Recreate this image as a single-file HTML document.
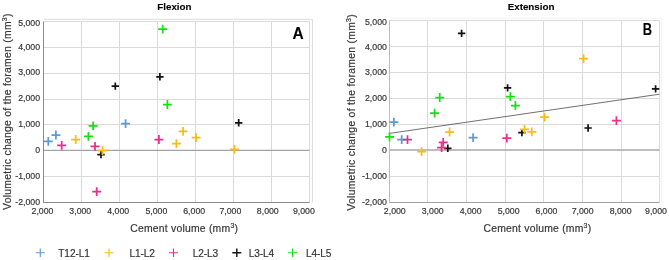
<!DOCTYPE html><html><head><meta charset="utf-8"><style>
html,body{margin:0;padding:0;background:#fff;width:669px;height:260px;overflow:hidden}
svg{display:block;font-family:"Liberation Sans", sans-serif;will-change:transform}
text{fill:#363636;stroke:#363636;stroke-width:0.18px}
.tk{font-size:8.75px}
.ti{font-size:9.8px;font-weight:bold;fill:#000;stroke:#000;stroke-width:0.1px}
.ax{font-size:10.4px;letter-spacing:0.22px}
.ay{font-size:10.4px;letter-spacing:0.27px}
.lg{font-size:10.1px;letter-spacing:-0.1px}
.pl{font-size:15.5px;font-weight:bold;fill:#000;stroke:#000;stroke-width:0.1px}
</style></head><body>
<svg width="669" height="260" viewBox="0 0 669 260">
<rect width="669" height="260" fill="#fff"/>
<path d="M43.50 19.30H312.40V202.50" fill="none" stroke="#dcdcdc" stroke-width="1"/>
<line x1="43.50" x2="309.50" y1="21.50" y2="21.50" stroke="#dadada" stroke-width="1"/>
<line x1="43.50" x2="309.50" y1="47.50" y2="47.50" stroke="#dadada" stroke-width="1"/>
<line x1="43.50" x2="309.50" y1="73.50" y2="73.50" stroke="#dadada" stroke-width="1"/>
<line x1="43.50" x2="309.50" y1="99.50" y2="99.50" stroke="#dadada" stroke-width="1"/>
<line x1="43.50" x2="309.50" y1="124.50" y2="124.50" stroke="#dadada" stroke-width="1"/>
<line x1="43.50" x2="309.50" y1="176.50" y2="176.50" stroke="#dadada" stroke-width="1"/>
<line x1="81.50" x2="81.50" y1="21.50" y2="202.50" stroke="#dadada" stroke-width="1"/>
<line x1="119.50" x2="119.50" y1="21.50" y2="202.50" stroke="#dadada" stroke-width="1"/>
<line x1="157.50" x2="157.50" y1="21.50" y2="202.50" stroke="#dadada" stroke-width="1"/>
<line x1="195.50" x2="195.50" y1="21.50" y2="202.50" stroke="#dadada" stroke-width="1"/>
<line x1="233.50" x2="233.50" y1="21.50" y2="202.50" stroke="#dadada" stroke-width="1"/>
<line x1="271.50" x2="271.50" y1="21.50" y2="202.50" stroke="#dadada" stroke-width="1"/>
<line x1="309.50" x2="309.50" y1="21.50" y2="202.50" stroke="#dadada" stroke-width="1"/>
<line x1="43.50" x2="309.50" y1="150.40" y2="150.40" stroke="#a4a4a4" stroke-width="1.1"/>
<line x1="43.50" x2="309.50" y1="202.50" y2="202.50" stroke="#8a8a8a" stroke-width="1"/>
<line x1="43.50" x2="43.50" y1="21.50" y2="203.00" stroke="#8a8a8a" stroke-width="1"/>
<text x="40.10" y="25.65" text-anchor="end" class="tk">5,000</text>
<text x="40.10" y="50.25" text-anchor="end" class="tk">4,000</text>
<text x="40.10" y="75.20" text-anchor="end" class="tk">3,000</text>
<text x="40.10" y="101.25" text-anchor="end" class="tk">2,000</text>
<text x="40.10" y="127.05" text-anchor="end" class="tk">1,000</text>
<text x="40.10" y="153.15" text-anchor="end" class="tk">0</text>
<text x="40.10" y="178.90" text-anchor="end" class="tk">-1,000</text>
<text x="40.10" y="205.35" text-anchor="end" class="tk">-2,000</text>
<text x="42.50" y="214.20" text-anchor="middle" class="tk">2,000</text>
<text x="80.30" y="214.20" text-anchor="middle" class="tk">3,000</text>
<text x="118.20" y="214.20" text-anchor="middle" class="tk">4,000</text>
<text x="156.40" y="214.20" text-anchor="middle" class="tk">5,000</text>
<text x="194.20" y="214.20" text-anchor="middle" class="tk">6,000</text>
<text x="230.40" y="214.20" text-anchor="middle" class="tk">7,000</text>
<text x="267.80" y="214.20" text-anchor="middle" class="tk">8,000</text>
<text x="303.90" y="214.20" text-anchor="middle" class="tk">9,000</text>
<path d="M389.50 18.20H661.60V202.50" fill="none" stroke="#f3f3f3" stroke-width="1"/>
<line x1="389.50" x2="659.50" y1="20.50" y2="20.50" stroke="#dadada" stroke-width="1"/>
<line x1="389.50" x2="659.50" y1="46.50" y2="46.50" stroke="#dadada" stroke-width="1"/>
<line x1="389.50" x2="659.50" y1="72.50" y2="72.50" stroke="#dadada" stroke-width="1"/>
<line x1="389.50" x2="659.50" y1="98.50" y2="98.50" stroke="#dadada" stroke-width="1"/>
<line x1="389.50" x2="659.50" y1="124.50" y2="124.50" stroke="#dadada" stroke-width="1"/>
<line x1="389.50" x2="659.50" y1="176.50" y2="176.50" stroke="#dadada" stroke-width="1"/>
<line x1="427.50" x2="427.50" y1="20.50" y2="202.50" stroke="#dadada" stroke-width="1"/>
<line x1="466.50" x2="466.50" y1="20.50" y2="202.50" stroke="#dadada" stroke-width="1"/>
<line x1="505.50" x2="505.50" y1="20.50" y2="202.50" stroke="#dadada" stroke-width="1"/>
<line x1="543.50" x2="543.50" y1="20.50" y2="202.50" stroke="#dadada" stroke-width="1"/>
<line x1="582.50" x2="582.50" y1="20.50" y2="202.50" stroke="#dadada" stroke-width="1"/>
<line x1="621.50" x2="621.50" y1="20.50" y2="202.50" stroke="#dadada" stroke-width="1"/>
<line x1="659.50" x2="659.50" y1="20.50" y2="202.50" stroke="#dadada" stroke-width="1"/>
<line x1="389.50" x2="659.50" y1="150.00" y2="150.00" stroke="#a8a8a8" stroke-width="1.7"/>
<line x1="389.50" x2="659.50" y1="202.50" y2="202.50" stroke="#a0a0a0" stroke-width="1"/>
<line x1="389.50" x2="389.50" y1="20.50" y2="203.00" stroke="#bdbdbd" stroke-width="1"/>
<text x="386.90" y="25.35" text-anchor="end" class="tk">5,000</text>
<text x="386.90" y="50.35" text-anchor="end" class="tk">4,000</text>
<text x="386.90" y="75.30" text-anchor="end" class="tk">3,000</text>
<text x="386.90" y="101.30" text-anchor="end" class="tk">2,000</text>
<text x="386.90" y="127.15" text-anchor="end" class="tk">1,000</text>
<text x="386.90" y="153.15" text-anchor="end" class="tk">0</text>
<text x="386.90" y="179.00" text-anchor="end" class="tk">-1,000</text>
<text x="386.90" y="204.65" text-anchor="end" class="tk">-2,000</text>
<text x="394.80" y="214.00" text-anchor="middle" class="tk">2,000</text>
<text x="432.70" y="214.00" text-anchor="middle" class="tk">3,000</text>
<text x="470.60" y="214.00" text-anchor="middle" class="tk">4,000</text>
<text x="508.60" y="214.00" text-anchor="middle" class="tk">5,000</text>
<text x="546.50" y="214.00" text-anchor="middle" class="tk">6,000</text>
<text x="582.60" y="214.00" text-anchor="middle" class="tk">7,000</text>
<text x="620.60" y="214.00" text-anchor="middle" class="tk">8,000</text>
<text x="656.00" y="214.00" text-anchor="middle" class="tk">9,000</text>
<text x="174.4" y="9.9" text-anchor="middle" class="ti">Flexion</text>
<text x="531.1" y="10.0" text-anchor="middle" class="ti">Extension</text>
<line x1="389.4" y1="133.4" x2="659.5" y2="94.2" stroke="#404040" stroke-width="0.75"/>
<text transform="translate(298.2 38.7) scale(1.0 1.1)" text-anchor="middle" class="pl">A</text>
<text transform="translate(647.4 34.9) scale(0.83 1.1)" text-anchor="middle" class="pl">B</text>
<text x="184.2" y="231.5" text-anchor="middle" class="ax">Cement volume (mm<tspan dy="-3.6" font-size="7">3</tspan><tspan dy="3.6">)</tspan></text>
<text x="537.4" y="231.5" text-anchor="middle" class="ax">Cement volume (mm<tspan dy="-3.6" font-size="7">3</tspan><tspan dy="3.6">)</tspan></text>
<text transform="translate(10.8 111.6) rotate(-90)" text-anchor="middle" class="ay">Volumetric change of the foramen (mm<tspan dy="-3.6" font-size="7">3</tspan><tspan dy="3.6">)</tspan></text>
<text transform="translate(354.6 112.3) rotate(-90)" text-anchor="middle" class="ay">Volumetric change of the foramen (mm<tspan dy="-3.6" font-size="7">3</tspan><tspan dy="3.6">)</tspan></text>
<path d="M97.30 154.60H104.70M101.00 150.90V158.30" stroke="#111111" stroke-width="1.7"/>
<path d="M111.60 86.10H119.00M115.30 82.40V89.80" stroke="#111111" stroke-width="1.7"/>
<path d="M156.20 76.80H163.60M159.90 73.10V80.50" stroke="#111111" stroke-width="1.7"/>
<path d="M235.00 122.80H242.40M238.70 119.10V126.50" stroke="#111111" stroke-width="1.7"/>
<path d="M444.10 148.30H451.50M447.80 144.60V152.00" stroke="#111111" stroke-width="1.7"/>
<path d="M457.90 33.40H465.30M461.60 29.70V37.10" stroke="#111111" stroke-width="1.7"/>
<path d="M503.90 87.90H511.30M507.60 84.20V91.60" stroke="#111111" stroke-width="1.7"/>
<path d="M518.20 132.60H525.60M521.90 128.90V136.30" stroke="#111111" stroke-width="1.7"/>
<path d="M584.40 128.00H591.80M588.10 124.30V131.70" stroke="#111111" stroke-width="1.7"/>
<path d="M651.90 88.90H659.30M655.60 85.20V92.60" stroke="#111111" stroke-width="1.7"/>
<path d="M43.80 141.40H52.80M48.30 137.00V145.80" stroke="#5b9bd5" stroke-width="1.75"/>
<path d="M51.40 135.00H60.40M55.90 130.60V139.40" stroke="#5b9bd5" stroke-width="1.75"/>
<path d="M121.10 123.70H130.10M125.60 119.30V128.10" stroke="#5b9bd5" stroke-width="1.75"/>
<path d="M389.40 122.20H398.40M393.90 117.80V126.60" stroke="#5b9bd5" stroke-width="1.75"/>
<path d="M397.20 139.70H406.20M401.70 135.30V144.10" stroke="#5b9bd5" stroke-width="1.75"/>
<path d="M468.60 137.70H477.60M473.10 133.30V142.10" stroke="#5b9bd5" stroke-width="1.75"/>
<path d="M71.20 139.50H80.20M75.70 135.10V143.90" stroke="#fbbc12" stroke-width="1.75"/>
<path d="M98.00 150.70H107.00M102.50 146.30V155.10" stroke="#fbbc12" stroke-width="1.75"/>
<path d="M178.60 131.30H187.60M183.10 126.90V135.70" stroke="#fbbc12" stroke-width="1.75"/>
<path d="M171.90 143.60H180.90M176.40 139.20V148.00" stroke="#fbbc12" stroke-width="1.75"/>
<path d="M191.60 137.60H200.60M196.10 133.20V142.00" stroke="#fbbc12" stroke-width="1.75"/>
<path d="M230.00 149.30H239.00M234.50 144.90V153.70" stroke="#fbbc12" stroke-width="1.75"/>
<path d="M417.10 151.70H426.10M421.60 147.30V156.10" stroke="#fbbc12" stroke-width="1.75"/>
<path d="M445.10 132.00H454.10M449.60 127.60V136.40" stroke="#fbbc12" stroke-width="1.75"/>
<path d="M527.30 131.80H536.30M531.80 127.40V136.20" stroke="#fbbc12" stroke-width="1.75"/>
<path d="M540.10 117.20H549.10M544.60 112.80V121.60" stroke="#fbbc12" stroke-width="1.75"/>
<path d="M579.10 58.70H588.10M583.60 54.30V63.10" stroke="#fbbc12" stroke-width="1.75"/>
<path d="M520.00 129.30H529.00M524.50 124.90V133.70" stroke="#fbbc12" stroke-width="1.75"/>
<path d="M57.20 145.40H66.20M61.70 141.00V149.80" stroke="#ee2d8c" stroke-width="1.75"/>
<path d="M90.50 146.40H99.50M95.00 142.00V150.80" stroke="#ee2d8c" stroke-width="1.75"/>
<path d="M92.20 191.70H101.20M96.70 187.30V196.10" stroke="#ee2d8c" stroke-width="1.75"/>
<path d="M154.40 139.50H163.40M158.90 135.10V143.90" stroke="#ee2d8c" stroke-width="1.75"/>
<path d="M403.00 139.70H412.00M407.50 135.30V144.10" stroke="#ee2d8c" stroke-width="1.75"/>
<path d="M438.70 142.30H447.70M443.20 137.90V146.70" stroke="#ee2d8c" stroke-width="1.75"/>
<path d="M437.10 147.50H446.10M441.60 143.10V151.90" stroke="#ee2d8c" stroke-width="1.75"/>
<path d="M502.30 138.20H511.30M506.80 133.80V142.60" stroke="#ee2d8c" stroke-width="1.75"/>
<path d="M611.90 120.70H620.90M616.40 116.30V125.10" stroke="#ee2d8c" stroke-width="1.75"/>
<path d="M83.90 136.30H92.90M88.40 131.90V140.70" stroke="#14e014" stroke-width="1.75"/>
<path d="M88.60 125.80H97.60M93.10 121.40V130.20" stroke="#14e014" stroke-width="1.75"/>
<path d="M158.20 29.20H167.20M162.70 24.80V33.60" stroke="#14e014" stroke-width="1.75"/>
<path d="M162.90 104.50H171.90M167.40 100.10V108.90" stroke="#14e014" stroke-width="1.75"/>
<path d="M385.00 136.80H394.00M389.50 132.40V141.20" stroke="#14e014" stroke-width="1.75"/>
<path d="M430.10 113.20H439.10M434.60 108.80V117.60" stroke="#14e014" stroke-width="1.75"/>
<path d="M435.20 97.50H444.20M439.70 93.10V101.90" stroke="#14e014" stroke-width="1.75"/>
<path d="M505.90 96.70H514.90M510.40 92.30V101.10" stroke="#14e014" stroke-width="1.75"/>
<path d="M510.90 105.50H519.90M515.40 101.10V109.90" stroke="#14e014" stroke-width="1.75"/>
<path d="M35.80 252.70H44.80M40.30 248.40V257.00" stroke="#5b9bd5" stroke-width="1.15"/>
<text x="58.3" y="257.1" class="lg">T12-L1</text>
<path d="M104.50 252.70H113.50M109.00 248.40V257.00" stroke="#fbbc12" stroke-width="1.15"/>
<text x="129.4" y="257.1" class="lg">L1-L2</text>
<path d="M169.00 252.70H178.00M173.50 248.40V257.00" stroke="#ee2d8c" stroke-width="1.15"/>
<text x="192.7" y="257.1" class="lg">L2-L3</text>
<path d="M232.30 252.70H241.30M236.80 248.40V257.00" stroke="#111111" stroke-width="1.45"/>
<text x="248.7" y="257.1" class="lg">L3-L4</text>
<path d="M288.10 252.70H297.10M292.60 248.40V257.00" stroke="#14e014" stroke-width="1.15"/>
<text x="306.0" y="257.1" class="lg">L4-L5</text>
</svg></body></html>
